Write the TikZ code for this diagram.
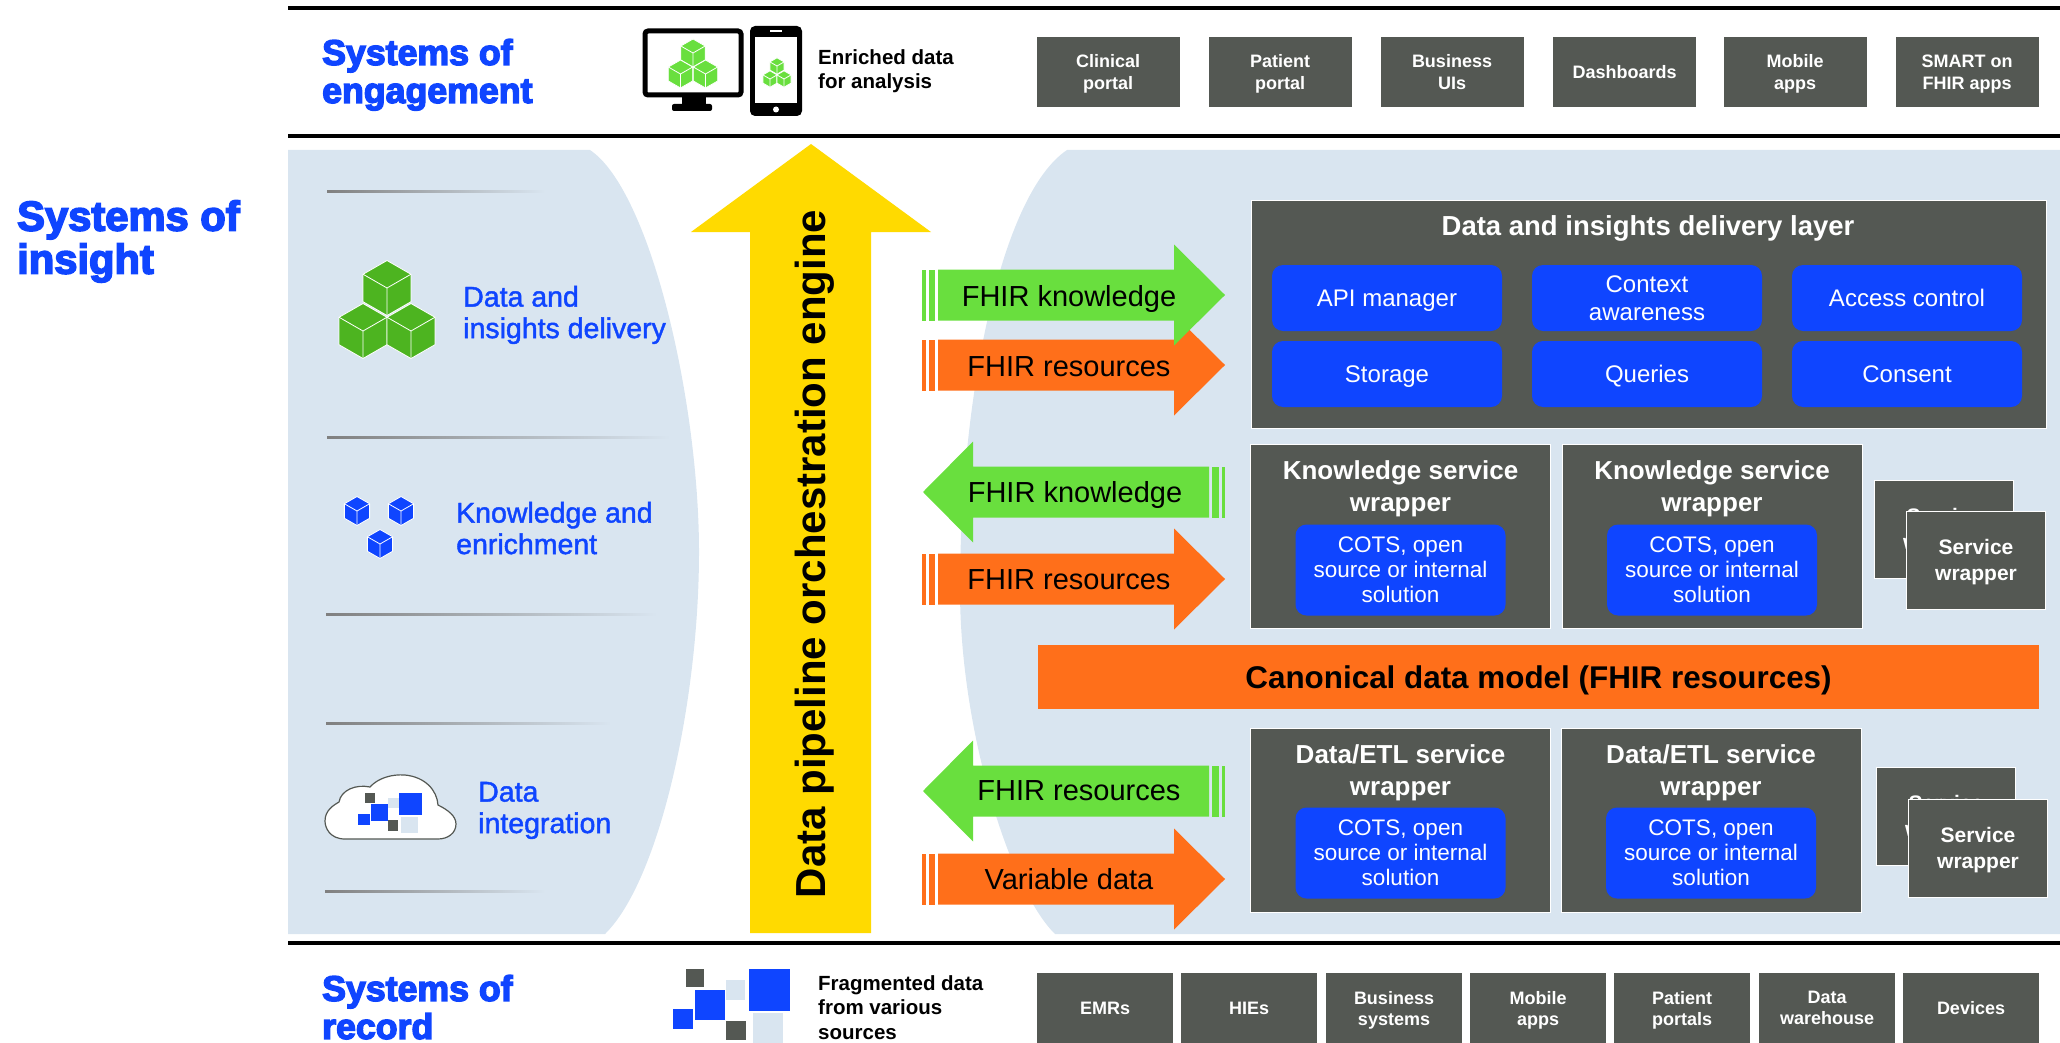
\documentclass[tikz,border=0pt]{standalone}
\usepackage{fontspec}
\setmainfont{Liberation Sans}
\newfontfamily\heavyfont[FakeBold=4]{Liberation Sans Bold}
\newfontfamily\mediumfont[FakeBold=1.5]{Liberation Sans}
\definecolor{brandblue}{HTML}{0F45FF}
\definecolor{panelblue}{HTML}{D9E5F0}
\definecolor{slategrey}{HTML}{545853}
\definecolor{flowgreen}{HTML}{69DF3E}
\definecolor{cubegreen}{HTML}{4DB420}
\definecolor{floworange}{HTML}{FF6F1A}
\definecolor{pipeyellow}{HTML}{FFDA00}
\tikzset{
    pics/cubeicon/.style={code={
        \fill[#1, draw=white, line width=.8pt] (0,-1) -- (.87,-.5) -- (.87,.5) -- (0,1) -- (-.87,.5) -- (-.87,-.5) -- cycle;
        \draw[white, line width=.8pt] (-.87,-.5) -- (0,0) -- (.87,-.5) (0,0) -- (0,1);
    }},
    pics/rightflow/.style={code={
        \fill[#1] (0,-25.5) -- (236,-25.5) -- (236,-50.5) -- (287,0) -- (236,50.5) -- (236,25.5) -- (0,25.5) -- cycle;
        \fill[#1] (-16,-25.5) rectangle (-12,25.5);
        \fill[#1] (-9,-25.5) rectangle (-3,25.5);
    }},
    pics/leftflow/.style={code={
        \fill[#1] (0,0) -- (50,-50.5) -- (50,-25.5) -- (286,-25.5) -- (286,25.5) -- (50,25.5) -- (50,50.5) -- cycle;
        \fill[#1] (289,-25.5) rectangle (296,25.5);
        \fill[#1] (299,-25.5) rectangle (302,25.5);
    }}
}
\begin{document}
\begin{tikzpicture}[
    x=1pt, y=-1pt,
    heading/.style={font=\heavyfont\fontsize{35.7}{38}\selectfont, text=brandblue, align=left, anchor=west, inner sep=0pt, text depth=0pt},
    itemlabel/.style={font=\mediumfont\fontsize{28.5}{31.5}\selectfont, text=brandblue, align=left, anchor=west, inner sep=0pt, text depth=0pt},
    note/.style={font=\bfseries\fontsize{20.5}{24.5}\selectfont, align=left, anchor=west, inner sep=0pt, text depth=0pt},
    topbox/.style={rectangle, fill=slategrey, minimum width=143pt, minimum height=70pt, text=white, align=center, inner sep=0pt, text depth=0pt, font=\bfseries\fontsize{18}{22}\selectfont},
    botbox/.style={topbox, minimum width=136pt, minimum height=71pt, font=\bfseries\fontsize{18}{21}\selectfont},
    layerbox/.style={rectangle, fill=slategrey, draw=white, line width=.8pt, minimum width=300pt, minimum height=184pt, inner sep=0pt},
    layertitle/.style={text=white, align=center, inner sep=0pt, text depth=0pt, font=\bfseries\fontsize{26}{31.5}\selectfont},
    btn/.style={rectangle, rounded corners=11pt, fill=brandblue, text=white, align=center, inner sep=0pt, text depth=0pt, minimum width=230pt, minimum height=66pt, font=\fontsize{24}{28}\selectfont},
    solution/.style={btn, minimum width=210pt, minimum height=91pt, font=\fontsize{22.5}{25}\selectfont},
    wrapbox/.style={rectangle, fill=slategrey, draw=white, line width=.8pt, minimum width=139pt, minimum height=98pt, text=white, align=center, inner sep=0pt, text depth=0pt, font=\bfseries\fontsize{21}{26}\selectfont},
    flowlabel/.style={inner sep=0pt, text depth=0pt, font=\fontsize{29}{34}\selectfont},
    sepline/.style={line width=3.5pt, black},
    fadeline/.style={left color=gray, right color=panelblue, draw=none}
]
    \clip (0,0) rectangle (2060,1043);
    % Panels
    \fill[panelblue] (288,150) -- (590,150) .. controls (650,190) and (699,400) .. (699,552) .. controls (699,700) and (660,880) .. (605,934) -- (288,934) -- cycle;
    \fill[panelblue] (1067,150) .. controls (1000,195) and (960,400) .. (960,590) .. controls (960,730) and (1010,890) .. (1055,934) -- (2060,934) -- (2060,150) -- cycle;
    % Separators
    \draw[sepline] (288,8) -- (2060,8);
    \draw[sepline] (288,136) -- (2060,136);
    \draw[sepline] (288,943) -- (2060,943);
    % Headings
    \node[heading] (engagement) at (322,71) {Systems of\\engagement};
    \node[heading, font=\heavyfont\fontsize{41.7}{43}\selectfont] (insight) at (17,237) {Systems of\\insight};
    \node[heading] (record) at (322,1007) {Systems of\\record};
    % Monitor and phone
    \fill[black] (682,95) rectangle (706,106);
    \fill[black, rounded corners=2pt] (672,104) rectangle (712,111);
    \draw[black, line width=5pt, rounded corners=3pt, fill=white] (645,31) rectangle (741,95);
    \fill[black, rounded corners=5pt] (750,26) rectangle (802,116);
    \fill[white] (755,37) rectangle (797,103);
    \fill[white] (770,30) rectangle (782,32.5);
    \fill[white] (776,109.5) circle (3);
    \pic[scale=14] at (693,53) {cubeicon=flowgreen};
    \pic[scale=14] at (680.5,74) {cubeicon=flowgreen};
    \pic[scale=14] at (705.5,74) {cubeicon=flowgreen};
    \pic[scale=8.2] at (777,66) {cubeicon=flowgreen};
    \pic[scale=8.2] at (770,79) {cubeicon=flowgreen};
    \pic[scale=8.2] at (784,79) {cubeicon=flowgreen};
    \node[note] (enriched) at (818,69) {Enriched data\\for analysis};
    % Top row
    \node[topbox] (clinical) at (1108,72) {Clinical\\portal};
    \node[topbox] (patient) at (1280,72) {Patient\\portal};
    \node[topbox] (uis) at (1452,72) {Business\\UIs};
    \node[topbox] (dash) at (1624.5,72) {Dashboards};
    \node[topbox] (mobile) at (1795,72) {Mobile\\apps};
    \node[topbox] (smart) at (1967,72) {SMART on\\FHIR apps};
    % Left panel rules
    \shade[fadeline] (327,191) rectangle (545,193);
    \shade[fadeline] (327,436) rectangle (670,438);
    \shade[fadeline] (326,613) rectangle (657,615);
    \shade[fadeline] (326,722) rectangle (611,724);
    \shade[fadeline] (325,890) rectangle (545,892);
    % Left panel icons
    \pic[scale=27.5] at (387,288) {cubeicon=cubegreen};
    \pic[scale=27.5] at (363,331) {cubeicon=cubegreen};
    \pic[scale=27.5] at (411,331) {cubeicon=cubegreen};
    \node[itemlabel] (delivery) at (463,312) {Data and\\insights delivery};
    \pic[scale=14.5] at (357,511) {cubeicon=brandblue};
    \pic[scale=14.5] at (401,511) {cubeicon=brandblue};
    \pic[scale=14.5] at (380,544) {cubeicon=brandblue};
    \node[itemlabel] (enrichment) at (456,528) {Knowledge and\\enrichment};
    \draw[slategrey, line width=1.2pt, fill=white] (345,839) .. controls (330,839) and (325,828) .. (325,821) .. controls (325,810) and (334,805) .. (339,802) .. controls (341,790) and (356,784) .. (370,787) .. controls (378,778) and (392,774) .. (405,775) .. controls (425,777) and (437,790) .. (438,805) .. controls (448,810) and (456,816) .. (456,824) .. controls (456,833) and (448,839) .. (438,839) -- cycle;
    \fill[slategrey] (365,793) rectangle (375,803);
    \fill[panelblue] (388,798) rectangle (399,808);
    \fill[brandblue] (399,793) rectangle (422,815);
    \fill[brandblue] (371,804) rectangle (388,821);
    \fill[brandblue] (358,814) rectangle (370,825);
    \fill[slategrey] (388,820) rectangle (398,831);
    \fill[panelblue] (401,817) rectangle (418,833);
    \node[itemlabel] (integration) at (478,807.5) {Data\\integration};
    % Pipeline
    \fill[pipeyellow] (811,144) -- (931,232) -- (871,232) -- (871,933) -- (750,933) -- (750,232) -- (691,232) -- cycle;
    \node[rotate=90, inner sep=0pt, font=\bfseries\fontsize{42}{46}\selectfont] (pipetext) at (815,554) {Data pipeline orchestration engine};
    % Delivery flows
    \pic at (938,365) {rightflow=floworange};
    \pic at (938,295) {rightflow=flowgreen};
    \node[flowlabel] (knowledge1) at (1069,296) {FHIR knowledge};
    \node[flowlabel] (resources1) at (1069,367) {FHIR resources};
    % Knowledge flows
    \pic at (923,492) {leftflow=flowgreen};
    \node[flowlabel] (knowledge2) at (1075,492) {FHIR knowledge};
    \pic at (938,579) {rightflow=floworange};
    \node[flowlabel] (resources2) at (1069,580) {FHIR resources};
    % Integration flows
    \pic at (923,791) {leftflow=flowgreen};
    \node[flowlabel] (resources3) at (1079,791) {FHIR resources};
    \pic at (938,879) {rightflow=floworange};
    \node[flowlabel] (variable) at (1069,879) {Variable data};
    % Delivery layer
    \node[layerbox, minimum width=795pt, minimum height=228pt] (layer) at (1648.5,314) {};
    \node[layertitle, font=\bfseries\fontsize{27.5}{32}\selectfont] (layername) at (1648,226) {Data and insights delivery layer};
    \node[btn] (api) at (1387,298) {API manager};
    \node[btn] (context) at (1647,298) {Context\\awareness};
    \node[btn] (access) at (1907,298) {Access control};
    \node[btn] (storage) at (1387,374) {Storage};
    \node[btn] (queries) at (1647,374) {Queries};
    \node[btn] (consent) at (1907,374) {Consent};
    % Knowledge services
    \node[layerbox] (ks1) at (1400.5,536) {};
    \node[layertitle] (ks1name) at (1400.5,486) {Knowledge service\\wrapper};
    \node[solution] (ks1sol) at (1400.5,570) {COTS, open\\source or internal\\solution};
    \node[layerbox] (ks2) at (1712,536) {};
    \node[layertitle] (ks2name) at (1712,486) {Knowledge service\\wrapper};
    \node[solution] (ks2sol) at (1712,570) {COTS, open\\source or internal\\solution};
    \node[wrapbox] (ksback) at (1944,529) {Service\\wrapper};
    \node[wrapbox] (ksfront) at (1976,560) {Service\\wrapper};
    % Canonical model
    \node[rectangle, fill=floworange, minimum width=1001pt, minimum height=64pt, inner sep=0pt, text depth=0pt, font=\bfseries\fontsize{31.4}{36}\selectfont] (canonical) at (1538.5,677) {Canonical data model (FHIR resources)};
    % ETL services
    \node[layerbox] (etl1) at (1400.5,820) {};
    \node[layertitle] (etl1name) at (1400.5,770) {Data/ETL service\\wrapper};
    \node[solution] (etl1sol) at (1400.5,853) {COTS, open\\source or internal\\solution};
    \node[layerbox] (etl2) at (1711,820) {};
    \node[layertitle] (etl2name) at (1711,770) {Data/ETL service\\wrapper};
    \node[solution] (etl2sol) at (1711,853) {COTS, open\\source or internal\\solution};
    \node[wrapbox] (etlback) at (1946,816) {Service\\wrapper};
    \node[wrapbox] (etlfront) at (1978,848) {Service\\wrapper};
    % Fragments
    \fill[slategrey] (686,969) rectangle (704,987);
    \fill[panelblue] (726,980) rectangle (745,1000);
    \fill[brandblue] (749,969) rectangle (790,1011);
    \fill[brandblue] (695,990) rectangle (725,1020);
    \fill[brandblue] (673,1009) rectangle (693,1029);
    \fill[slategrey] (726,1021) rectangle (746,1040);
    \fill[panelblue] (753,1013) rectangle (783,1043);
    \node[note] (fragmented) at (818,1007.5) {Fragmented data\\from various\\sources};
    % Bottom row
    \node[botbox] (emrs) at (1105,1008) {EMRs};
    \node[botbox] (hies) at (1249,1008) {HIEs};
    \node[botbox] (bizsys) at (1394,1008) {Business\\systems};
    \node[botbox] (mobile2) at (1538,1008) {Mobile\\apps};
    \node[botbox] (portals) at (1682,1008) {Patient\\portals};
    \node[botbox] (warehouse) at (1827,1008) {Data\\warehouse};
    \node[botbox] (devices) at (1971,1008) {Devices};
\end{tikzpicture}
\end{document}
